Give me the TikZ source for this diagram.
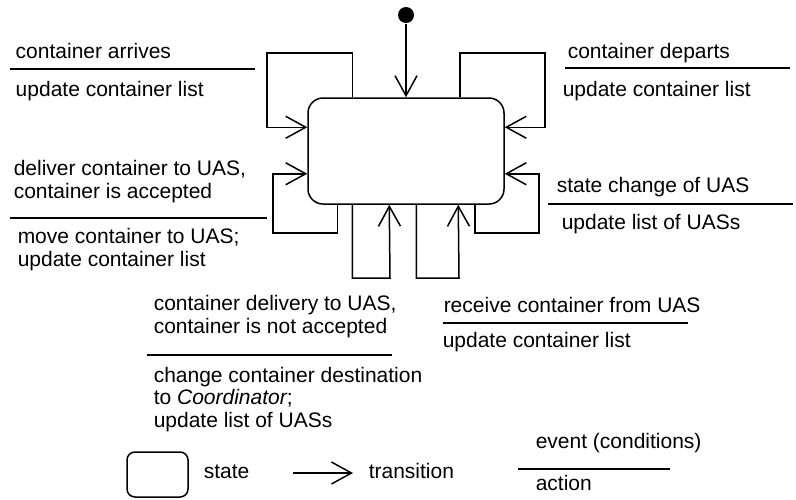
\documentclass[tikz,border=0pt]{standalone}
\usepackage{fontspec}
\setmainfont{Liberation Sans}
\usetikzlibrary{arrows.meta,calc}

\begin{document}
\begin{tikzpicture}[x=1pt,y=-1pt,line width=1.5pt,
  font=\fontsize{21}{22.5}\selectfont,
  every node/.style={inner sep=0pt},
  txt/.style={anchor=base west,align=left},
  trans/.style={-{Straight Barb[length=20pt,width=22pt]}}]

 \useasboundingbox (0,0) rectangle (796,499);

 % the state and the start point
 \node[draw,rounded corners=15pt,minimum width=196pt,minimum height=106pt] (hub) at (406,151) {};
 \node[circle,fill,minimum size=16pt] (init) at (406,15) {};
 \draw[trans] (init) -- (hub);

 % self transitions, clockwise from top left
 \draw[trans] ($(hub.north west)+(45,0)$) |- (267,53) |- ($(hub.north west)+(0,30)$);
 \draw[trans] ($(hub.north east)+(-45,0)$) |- (545,53) |- ($(hub.north east)+(0,30)$);
 \draw[trans] ($(hub.south east)+(-30,0)$) |- (539,233) |- ($(hub.south east)+(0,-31)$);
 \draw[trans] ($(hub.south west)+(109,0)$) |- (459,278) -- ($(hub.south west)+(151,0)$);
 \draw[trans] ($(hub.south west)+(45,0)$) |- (390,278) -- ($(hub.south west)+(82,0)$);
 \draw[trans] ($(hub.south west)+(30,0)$) |- (273,233) |- ($(hub.south west)+(0,-31)$);

 % container arrives
 \node[txt] (arrEv) at (15,58) {container arrives};
 \draw (10,69) -- (255,69);
 \node[txt] (arrAc) at (15,96) {update container list};

 % container departs
 \node[txt] (depEv) at (567,58) {container departs};
 \draw (565,68) -- (790,68);
 \node[txt] (depAc) at (562,96) {update container list};

 % delivery accepted (base is the last line)
 \node[txt] (accEv) at (13,198) {deliver container to UAS,\\container is accepted};
 \draw (10,218) -- (267,218);
 \node[txt] (accAc) at (17,266) {move container to UAS;\\update container list};

 % UAS state change
 \node[txt] (uasEv) at (556,192) {state change of UAS};
 \draw (548,204) -- (793,204);
 \node[txt] (uasAc) at (561,229) {update list of UASs};

 % delivery not accepted
 \node[txt] (rejEv) at (153,333) {container delivery to UAS,\\container is not accepted};
 \draw (147,355) -- (392,355);
 \node[txt] (rejAc) at (153,427) {change container destination\\to {\itshape Coordinator};\\update list of UASs};

 % container received
 \node[txt] (recEv) at (443,312) {receive container from UAS};
 \draw (443,323) -- (688,323);
 \node[txt] (recAc) at (442,347) {update container list};

 % legend
 \node[draw,rounded corners=8pt,minimum width=61pt,minimum height=45pt] (legState) at (157.5,474.5) {};
 \node[txt] (legStateTxt) at (203,478) {state};
 \coordinate (legA) at (293,473);
 \coordinate (legB) at (353,473);
 \draw[trans] (legA) -- (legB);
 \node[txt] (legTransTxt) at (368,478) {transition};
 \node[txt] (legEv) at (535,448) {event (conditions)};
 \draw (518,469) -- (670,469);
 \node[txt] (legAc) at (535,490) {action};

\end{tikzpicture}
\end{document}
